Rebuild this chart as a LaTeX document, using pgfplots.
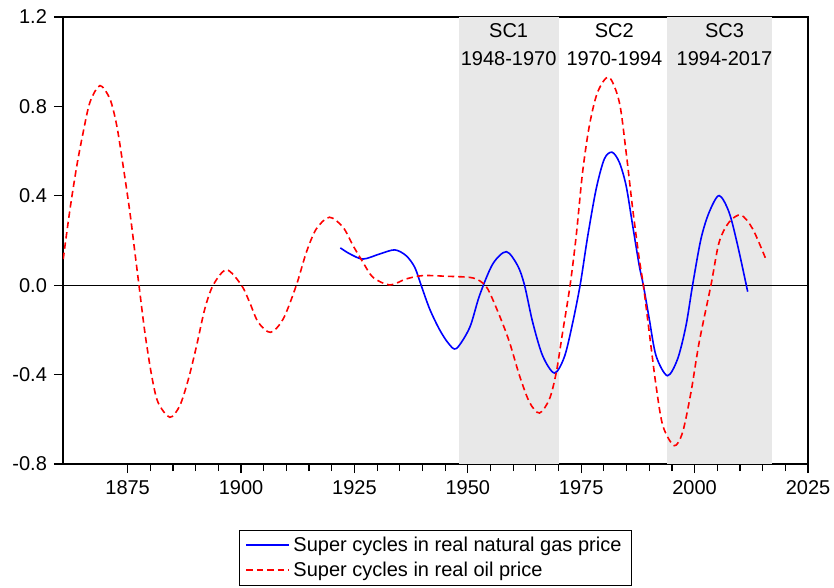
\documentclass[border=0pt]{standalone}
\usepackage{fontspec}
\setmainfont{Liberation Sans}
\usepackage{pgfplots}
\usepackage{pgfplotstable}
\pgfplotsset{compat=1.18}
\definecolor{bandgray}{RGB}{232,232,232}

\pgfplotstableread{
year val
1860.8 0.117
1862.3 0.341
1863.8 0.535
1865.2 0.684
1866.7 0.819
1868.9 0.893
1871.1 0.833
1872.6 0.714
1874.0 0.535
1875.5 0.326
1876.6 0.147
1877.5 0.000
1878.8 -0.211
1880.3 -0.405
1881.7 -0.524
1884.3 -0.591
1886.5 -0.539
1888.4 -0.420
1890.2 -0.271
1892.0 -0.107
1893.85 0.000
1896.8 0.069
1900.1 0.000
1901.9 -0.077
1903.8 -0.166
1906.5 -0.211
1909.3 -0.151
1912.2 0.000
1914.4 0.147
1916.6 0.252
1919.5 0.304
1922.5 0.259
1924.7 0.177
1926.9 0.102
1929.1 0.035
1932.8 0.001
1936.4 0.028
1940.1 0.043
1945.2 0.040
1950.4 0.035
1952.6 0.020
1954.4 -0.017
1957.0 -0.137
1959.2 -0.256
1961.4 -0.405
1963.6 -0.524
1965.8 -0.572
1968.0 -0.509
1969.5 -0.390
1970.9 -0.211
1972.55 0.000
1973.9 0.222
1975.3 0.505
1976.8 0.714
1978.6 0.863
1981.1 0.931
1983.4 0.819
1984.9 0.595
1986.35 0.341
1987.8 0.117
1988.7 0.000
1990.0 -0.211
1991.5 -0.450
1993.0 -0.629
1995.5 -0.718
1997.35 -0.658
1999.2 -0.479
2001.0 -0.256
2003.6 0.000
2005.4 0.192
2007.6 0.282
2010.2 0.314
2012.8 0.252
2015.7 0.117
}\oil

\pgfplotstableread{
year val
1921.9 0.167
1924.0 0.140
1926.9 0.117
1930.6 0.140
1933.9 0.158
1936.4 0.132
1938.3 0.080
1939.7 0.000
1941.6 -0.107
1943.8 -0.200
1945.8 -0.262
1947.5 -0.283
1950.4 -0.190
1952.6 -0.045
1955.5 0.095
1958.5 0.150
1961.0 0.087
1962.5 0.000
1964.3 -0.166
1966.5 -0.316
1969.1 -0.393
1971.3 -0.320
1973.1 -0.170
1974.8 0.005
1976.4 0.215
1978.3 0.431
1980.1 0.565
1981.8 0.595
1983.4 0.550
1984.9 0.445
1986.35 0.266
1987.8 0.087
1988.7 0.000
1990.0 -0.151
1991.5 -0.316
1994.0 -0.405
1996.25 -0.330
1998.1 -0.181
1999.55 0.000
2001.4 0.207
2003.2 0.326
2005.4 0.401
2007.6 0.326
2009.5 0.177
2011.7 -0.029
}\gas

\begin{document}
\begin{tikzpicture}
\useasboundingbox (-31.5pt,-62pt) rectangle (385.5pt,232pt);
\begin{axis}[
  at={(0,0)}, anchor=south west,
  scale only axis, width=372.5pt, height=223.5pt,
  xmin=1860.75, xmax=2025, ymin=-0.8, ymax=1.2,
  xtick={1875,1900,1925,1950,1975,2000,2025},
  minor x tick num=4,
  ytick={-0.8,-0.4,0,0.4,0.8,1.2},
  yticklabel style={/pgf/number format/.cd, fixed, fixed zerofill, precision=1, assume math mode=true},
  xticklabel style={/pgf/number format/.cd, set thousands separator={}, assume math mode=true},
  tick align=outside, xtick pos=bottom, ytick pos=left,
  major tick length=4.5pt, minor tick length=3.5pt,
  tick style={black, line width=0.6pt},
  axis line style={line width=0.8pt},
  font=\fontsize{10}{12}\selectfont,
  legend style={at={(0.5,-0.148)}, anchor=north, draw=black,
    font=\fontsize{10}{12}\selectfont, legend cell align=left, row sep=0pt,
    inner xsep=3pt, inner ysep=1pt},
  legend image code/.code={\draw[#1, line width=0.9pt] (0cm,0.25pt) -- (0.74cm,0.25pt);},
]
\fill[bandgray] (axis cs:1948,-0.8) rectangle (axis cs:1970,1.2);
\fill[bandgray] (axis cs:1994,-0.8) rectangle (axis cs:2017,1.2);
\draw[black, line width=0.5pt] (axis cs:1860.75,0) -- (axis cs:2025,0);
\addplot[blue, line width=0.8pt, smooth, tension=0.5] table[x=year,y=val] {\gas};
\addlegendentry{Super cycles in real natural gas price}
\addplot[red, line width=0.8pt, dash pattern=on 3.2pt off 2pt, smooth, tension=0.5] table[x=year,y=val] {\oil};
\addlegendentry{Super cycles in real oil price}
\node[align=center, inner sep=0pt] at (axis cs:1959,1.077) {SC1\\[2pt]1948-1970};
\node[align=center, inner sep=0pt] at (axis cs:1982.3,1.077) {SC2\\[2pt]1970-1994};
\node[align=center, inner sep=0pt] at (axis cs:2006.6,1.077) {SC3\\[2pt]1994-2017};
\end{axis}
\end{tikzpicture}
\end{document}
